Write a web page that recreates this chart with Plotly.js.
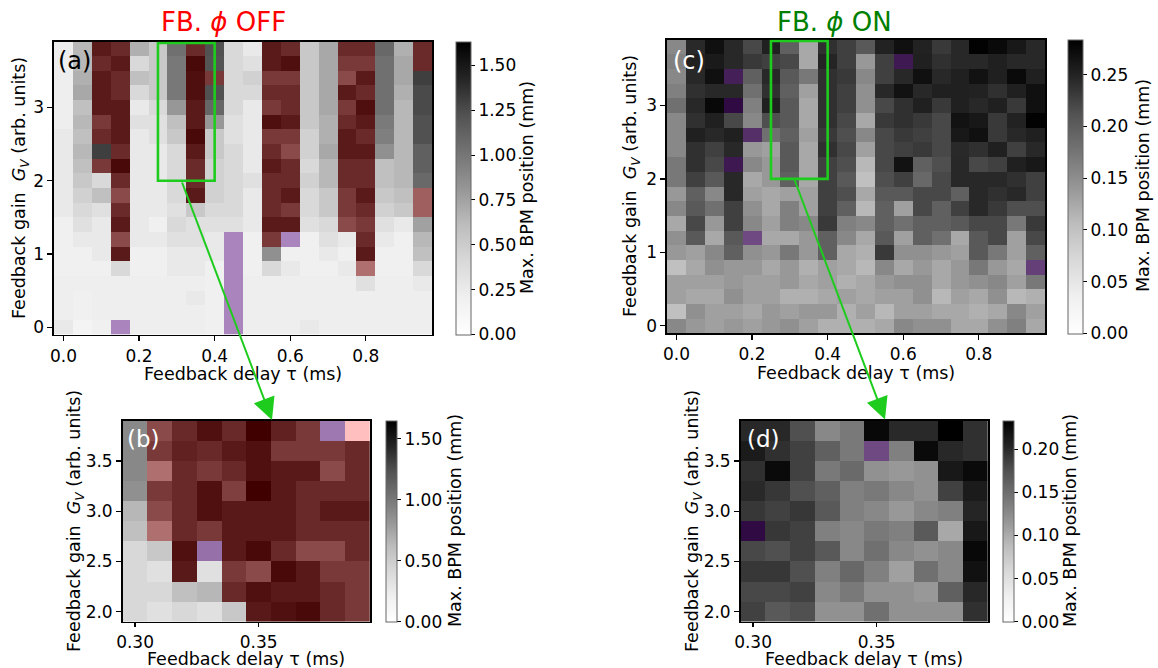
<!DOCTYPE html>
<html><head><meta charset="utf-8">
<script src="https://cdn.plot.ly/plotly-3.0.1.min.js"></script>
<style>html,body{margin:0;padding:0;background:#fff;} #chart{width:1158px;height:668px;}</style>
</head><body><div id="chart"></div>
<script>
// ---------- DATA ----------
const delayWide = [0.00,0.05,0.10,0.15,0.20,0.25,0.30,0.35,0.40,0.45,0.50,0.55,0.60,0.65,0.70,0.75,0.80,0.85,0.90,0.95];
const gainWide  = [0.0,0.2,0.4,0.6,0.8,1.0,1.2,1.4,1.6,1.8,2.0,2.2,2.4,2.6,2.8,3.0,3.2,3.4,3.6,3.8];
const delayZoom = [0.30,0.31,0.32,0.33,0.34,0.35,0.36,0.37,0.38,0.39];
const gainZoom  = [2.0,2.2,2.4,2.6,2.8,3.0,3.2,3.4,3.6,3.8];

// Panel (a): FB phi OFF, max BPM position (mm); rows listed from top (G=3.8) to bottom (G=0)
const offWide = [
[0.22,0.64,1.44,1.34,0.68,0.53,1.04,1.34,1.23,0.41,0.27,1.44,1.34,0.53,0.72,1.34,1.34,1.09,0.68,1.34],
[0.22,0.64,1.34,1.44,0.41,0.53,0.99,1.56,1.21,0.41,0.35,1.44,1.52,0.53,0.72,1.25,1.25,1.04,0.72,1.34],
[0.22,0.68,1.44,1.34,0.59,0.53,0.99,1.52,1.25,0.41,0.47,1.25,1.25,0.53,0.72,1.12,1.44,1.04,0.72,1.31],
[0.22,0.72,1.44,1.34,0.41,0.53,0.99,1.52,1.23,0.41,0.41,1.34,1.34,0.53,0.72,1.44,1.34,1.04,0.68,1.26],
[0.22,0.59,1.44,1.44,0.27,0.41,0.81,1.44,1.10,0.41,0.27,1.25,1.34,0.53,0.72,1.25,1.52,1.04,0.64,1.26],
[0.22,0.64,1.25,1.44,0.35,0.35,0.59,1.44,0.81,0.35,0.27,1.52,1.44,0.53,0.68,1.34,1.44,0.98,0.64,1.23],
[0.27,0.59,1.34,1.44,0.27,0.35,0.53,1.56,0.53,0.35,0.27,1.25,1.25,0.47,0.68,1.44,1.34,0.95,0.64,1.23],
[0.27,0.64,1.31,1.34,0.27,0.27,0.41,1.44,0.53,0.41,0.27,1.34,1.12,0.47,0.72,1.44,1.44,0.85,0.64,1.14],
[0.27,0.59,1.25,1.56,0.27,0.27,0.41,1.34,0.47,0.41,0.27,1.44,1.34,0.41,0.64,1.34,1.34,0.59,0.64,1.14],
[0.27,0.53,0.41,1.34,0.27,0.27,0.41,1.34,0.47,0.41,0.35,1.34,1.34,0.47,0.64,1.34,1.34,0.59,0.64,1.08],
[0.27,0.47,0.59,1.12,0.27,0.27,0.41,1.44,0.47,0.41,0.27,1.34,1.44,0.41,0.53,1.25,1.44,0.53,0.59,0.95],
[0.27,0.41,0.35,1.34,0.27,0.27,0.35,0.53,0.41,0.41,0.27,1.34,1.25,0.41,0.53,1.25,1.34,0.47,0.53,0.95],
[0.20,0.35,0.27,1.44,0.27,0.20,0.41,0.35,0.35,0.35,0.27,1.44,1.44,0.35,0.41,1.12,1.25,0.35,0.27,0.76],
[0.20,0.27,0.27,1.12,0.27,0.27,0.35,0.35,0.27,0.35,0.20,1.25,0.35,0.20,0.35,0.27,1.34,0.27,0.20,0.64],
[0.20,0.20,0.27,1.44,0.20,0.20,0.27,0.27,0.27,0.35,0.20,0.85,0.20,0.20,0.27,0.20,1.44,0.20,0.20,0.59],
[0.20,0.20,0.20,0.41,0.20,0.20,0.27,0.27,0.20,0.35,0.20,0.41,0.27,0.20,0.20,0.27,0.82,0.20,0.20,0.41],
[0.22,0.22,0.22,0.22,0.22,0.22,0.22,0.22,0.20,0.35,0.22,0.22,0.22,0.22,0.22,0.22,0.35,0.22,0.22,0.27],
[0.22,0.20,0.22,0.22,0.22,0.22,0.22,0.27,0.20,0.35,0.22,0.22,0.22,0.22,0.22,0.22,0.22,0.22,0.22,0.22],
[0.22,0.20,0.22,0.22,0.22,0.22,0.22,0.22,0.20,0.35,0.22,0.22,0.22,0.22,0.22,0.22,0.22,0.22,0.22,0.22],
[0.27,0.15,0.20,0.35,0.22,0.22,0.22,0.22,0.20,0.35,0.22,0.22,0.22,0.27,0.22,0.22,0.22,0.22,0.22,0.22]
];
// R = red-flagged cell, P = purple-flagged cell
const offWideFlags = [
"..RR...R...RR..RR..R",
"..RR...R...RR..RR..R",
"..RR...RR..RR..RR...",
"..RR...R...RR..RR...",
"..RR...R...RR..RR...",
"..RR...R...RR..RR...",
"..RR...R...RR..RR...",
"...R...R...RR..RR...",
"..RR...R...RR..RR...",
"...R...R...RR..RR...",
"...R...R...RR..RR..R",
"...R.......RR..RR..R",
"...R.......RR..RR...",
"...R.....P.RP...R...",
"...R.....P......R...",
".........P......R...",
".........P..........",
".........P..........",
".........P..........",
"...P.....P.........."
];

// Panel (c): FB phi ON
const onWide = [
[0.156,0.245,0.269,0.246,0.221,0.253,0.198,0.126,0.240,0.227,0.206,0.251,0.269,0.251,0.233,0.246,0.282,0.274,0.261,0.246],
[0.164,0.253,0.259,0.246,0.233,0.227,0.221,0.126,0.249,0.227,0.140,0.227,0.243,0.253,0.240,0.246,0.246,0.253,0.246,0.246],
[0.156,0.246,0.269,0.235,0.198,0.246,0.206,0.172,0.240,0.233,0.156,0.227,0.246,0.269,0.246,0.253,0.267,0.253,0.274,0.253],
[0.164,0.240,0.246,0.246,0.181,0.240,0.198,0.133,0.240,0.227,0.148,0.246,0.267,0.246,0.253,0.253,0.251,0.240,0.253,0.269],
[0.181,0.246,0.276,0.268,0.164,0.253,0.206,0.126,0.240,0.227,0.148,0.221,0.240,0.253,0.233,0.253,0.246,0.253,0.233,0.269],
[0.156,0.240,0.253,0.221,0.156,0.215,0.206,0.126,0.240,0.221,0.126,0.233,0.240,0.233,0.221,0.267,0.261,0.233,0.251,0.282],
[0.156,0.253,0.246,0.253,0.214,0.181,0.198,0.133,0.233,0.215,0.156,0.221,0.233,0.227,0.221,0.261,0.269,0.233,0.246,0.253],
[0.156,0.240,0.227,0.246,0.140,0.133,0.206,0.126,0.240,0.221,0.133,0.221,0.227,0.233,0.221,0.245,0.240,0.253,0.227,0.246],
[0.172,0.240,0.221,0.245,0.156,0.140,0.206,0.126,0.227,0.215,0.111,0.221,0.267,0.198,0.215,0.246,0.221,0.227,0.253,0.261],
[0.172,0.227,0.206,0.246,0.126,0.140,0.198,0.126,0.227,0.206,0.103,0.215,0.227,0.189,0.221,0.246,0.246,0.246,0.240,0.227],
[0.140,0.198,0.156,0.246,0.133,0.126,0.133,0.133,0.227,0.215,0.126,0.206,0.206,0.221,0.221,0.198,0.246,0.240,0.246,0.227],
[0.156,0.206,0.181,0.227,0.148,0.126,0.164,0.133,0.227,0.198,0.111,0.198,0.133,0.221,0.198,0.227,0.246,0.233,0.215,0.215],
[0.126,0.221,0.140,0.227,0.156,0.133,0.164,0.156,0.233,0.164,0.156,0.198,0.181,0.198,0.198,0.206,0.221,0.221,0.172,0.233],
[0.148,0.206,0.126,0.206,0.168,0.126,0.126,0.140,0.198,0.156,0.126,0.206,0.133,0.198,0.181,0.126,0.206,0.221,0.133,0.221],
[0.140,0.133,0.156,0.198,0.148,0.140,0.172,0.140,0.198,0.126,0.118,0.233,0.148,0.148,0.140,0.133,0.206,0.172,0.133,0.198],
[0.103,0.126,0.148,0.140,0.140,0.126,0.140,0.118,0.133,0.126,0.111,0.156,0.126,0.140,0.126,0.140,0.172,0.140,0.126,0.185],
[0.133,0.133,0.133,0.140,0.133,0.133,0.140,0.126,0.133,0.118,0.126,0.140,0.148,0.148,0.126,0.140,0.148,0.156,0.133,0.172],
[0.133,0.126,0.126,0.148,0.133,0.133,0.118,0.118,0.126,0.133,0.126,0.133,0.133,0.148,0.111,0.133,0.126,0.148,0.111,0.118],
[0.103,0.148,0.133,0.133,0.126,0.140,0.133,0.140,0.140,0.118,0.133,0.111,0.133,0.133,0.126,0.126,0.118,0.126,0.156,0.133],
[0.156,0.140,0.133,0.140,0.133,0.140,0.148,0.133,0.118,0.118,0.118,0.126,0.156,0.148,0.148,0.126,0.126,0.148,0.164,0.126]
];
const onWideFlags = [
"....................",
"............P.......",
"...P................",
"....................",
"...P................",
"....................",
"....P...............",
"....................",
"...P................",
"....................",
"....................",
"....................",
"....................",
"....P...............",
"....................",
"...................P",
"....................",
"....................",
"....................",
"...................."
];

// Panel (b): FB phi OFF, fine scan; rows from top (G=3.8) to bottom (G=2.0)
const offZoom = [
[0.90,1.13,1.36,1.53,1.36,1.65,1.41,1.26,0.51,0.00],
[0.91,1.26,1.41,1.36,1.46,1.53,1.26,1.26,1.26,1.36],
[0.91,0.83,1.36,1.26,1.36,1.53,1.46,1.46,1.13,1.36],
[0.86,1.26,1.36,1.53,1.22,1.65,1.46,1.36,1.36,1.36],
[0.65,1.13,1.36,1.53,1.46,1.46,1.46,1.36,1.46,1.46],
[0.60,0.83,1.36,1.26,1.46,1.46,1.46,1.36,1.36,1.36],
[0.42,0.54,1.53,0.61,1.46,1.58,1.36,1.13,1.13,1.36],
[0.42,0.35,1.46,0.35,1.26,1.13,1.58,1.46,1.26,1.26],
[0.42,0.42,0.60,0.65,1.36,1.53,1.46,1.46,1.36,1.26],
[0.42,0.35,0.42,0.35,0.54,1.46,1.53,1.58,1.36,1.26]
];
const offZoomFlags = [
".RRRRRRRPR",
".RRRRRRRRR",
".RRRRRRRRR",
".RRRRRRRRR",
".RRRRRRRRR",
".RRRRRRRRR",
"..RPRRRRRR",
"..R.RRRRRR",
"....RRRRRR",
".....RRRRR"
];

// Panel (d): FB phi ON, fine scan
const onZoom = [
[0.202,0.202,0.176,0.128,0.141,0.227,0.201,0.201,0.233,0.197],
[0.212,0.197,0.186,0.162,0.141,0.137,0.135,0.225,0.202,0.197],
[0.197,0.225,0.186,0.141,0.154,0.121,0.115,0.121,0.214,0.225],
[0.201,0.192,0.176,0.162,0.135,0.141,0.128,0.121,0.186,0.212],
[0.192,0.186,0.192,0.169,0.135,0.128,0.115,0.128,0.135,0.204],
[0.220,0.192,0.186,0.135,0.128,0.141,0.135,0.168,0.103,0.214],
[0.181,0.176,0.186,0.169,0.128,0.148,0.128,0.121,0.128,0.227],
[0.192,0.192,0.176,0.135,0.155,0.135,0.109,0.148,0.128,0.220],
[0.181,0.181,0.186,0.128,0.141,0.121,0.121,0.115,0.162,0.202],
[0.186,0.169,0.176,0.121,0.121,0.148,0.121,0.121,0.121,0.197]
];
const onZoomFlags = [
"..........",
".....P....",
"..........",
"..........",
"..........",
"P.........",
"..........",
"..........",
"..........",
".........."
];

const cbTicksA = [0,0.25,0.5,0.75,1.0,1.25,1.5];
const cbTicksB = [0,0.5,1.0,1.5];
const cbTicksC = [0,0.05,0.10,0.15,0.20,0.25];
const cbTicksD = [0,0.05,0.10,0.15,0.20];

// ---------- LAYOUT HELPERS ----------
const W = 1158, H = 668;
const px = v => v / W;
const py = v => 1 - v / H;
const FONT = 'DejaVu Sans, sans-serif';
const fs = 17;      // tick labels
const fl = 17.5;    // axis labels

const greys = [[0,'#ffffff'],[0.125,'#f0f0f0'],[0.25,'#d9d9d9'],[0.375,'#bdbdbd'],[0.5,'#969696'],[0.625,'#737373'],[0.75,'#525252'],[0.875,'#252525'],[1,'#000000']];
const RED = 'rgba(255,0,0,0.25)';
const PURPLE = 'rgba(93,0,135,0.41)';
const GREEN = '#1ecc1e';

const bottomUp = rows => rows.slice().reverse();
const flagZ = (rows, ch) => bottomUp(rows).map(r => r.split('').map(c => c === ch ? 1 : null));

function baseTrace(x, y, rows, xa, ya, zmax, cb) {
  return {
    type: 'heatmap', x: x, y: y, z: bottomUp(rows), xaxis: xa, yaxis: ya,
    colorscale: greys, zmin: 0, zmax: zmax, hoverinfo: 'skip',
    colorbar: Object.assign({
      thicknessmode: 'pixels', lenmode: 'fraction', xanchor: 'left', yanchor: 'top',
      xpad: 0, ypad: 0, outlinewidth: 1, outlinecolor: '#666',
      ticks: 'outside', ticklen: 4, tickwidth: 1, tickcolor: '#000',
      tickfont: {family: FONT, size: fs, color: '#000'}, tickformat: '.2f', tickmode: 'array'
    }, cb)
  };
}
function flagTrace(x, y, flags, ch, color, xa, ya) {
  return {
    type: 'heatmap', x: x, y: y, z: flagZ(flags, ch), xaxis: xa, yaxis: ya,
    colorscale: [[0, color], [1, color]], zmin: 0, zmax: 1, showscale: false, hoverinfo: 'skip'
  };
}

const traces = [
  baseTrace(delayWide, gainWide, offWide, 'x', 'y', 1.633,
    {x: px(456), y: py(41.5), len: (334.5-41.5)/H, thickness: 15, tickvals: cbTicksA}),
  flagTrace(delayWide, gainWide, offWideFlags, 'R', RED, 'x', 'y'),
  flagTrace(delayWide, gainWide, offWideFlags, 'P', PURPLE, 'x', 'y'),

  baseTrace(delayWide, gainWide, onWide, 'x2', 'y2', 0.284,
    {x: px(1068), y: py(39.5), len: (333-39.5)/H, thickness: 15, tickvals: cbTicksC}),
  flagTrace(delayWide, gainWide, onWideFlags, 'P', PURPLE, 'x2', 'y2'),

  baseTrace(delayZoom, gainZoom, offZoom, 'x3', 'y3', 1.65,
    {x: px(386), y: py(420.7), len: (621.7-420.7)/H, thickness: 11, tickvals: cbTicksB}),
  flagTrace(delayZoom, gainZoom, offZoomFlags, 'R', RED, 'x3', 'y3'),
  flagTrace(delayZoom, gainZoom, offZoomFlags, 'P', PURPLE, 'x3', 'y3'),

  baseTrace(delayZoom, gainZoom, onZoom, 'x4', 'y4', 0.233,
    {x: px(1003), y: py(420.7), len: (621.7-420.7)/H, thickness: 11, tickvals: cbTicksD}),
  flagTrace(delayZoom, gainZoom, onZoomFlags, 'P', PURPLE, 'x4', 'y4')
];

function ax(domain, range, tickvals, fmt, anchor, tl) {
  return {
    domain: domain, range: range, anchor: anchor, tickmode: 'array', tickvals: tickvals, tickformat: fmt,
    showline: true, mirror: true, linecolor: '#000', linewidth: 1.6,
    ticks: 'outside', ticklen: tl || 5, tickwidth: 1.2, tickcolor: '#000',
    showgrid: false, zeroline: false, fixedrange: true,
    tickfont: {family: FONT, size: fs, color: '#000'}
  };
}

const layout = {
  width: W, height: H, margin: {l: 0, r: 0, t: 0, b: 0},
  paper_bgcolor: '#fff', plot_bgcolor: '#fff', showlegend: false,
  font: {family: FONT, size: fs, color: '#000'},
  xaxis:  ax([px(54), px(432)], [-0.025, 0.975], [0, 0.2, 0.4, 0.6, 0.8], '.1f', 'y'),
  yaxis:  ax([py(334.5), py(41.5)], [-0.1, 3.9], [0, 1, 2, 3], 'd', 'x'),
  xaxis2: ax([px(667), px(1045)], [-0.025, 0.975], [0, 0.2, 0.4, 0.6, 0.8], '.1f', 'y2'),
  yaxis2: ax([py(333), py(39.5)], [-0.1, 3.9], [0, 1, 2, 3], 'd', 'x2'),
  xaxis3: ax([px(122.7), px(370)], [0.295, 0.395], [0.30, 0.35], '.2f', 'y3', 4),
  yaxis3: ax([py(621.7), py(420.7)], [1.9, 3.9], [2.0, 2.5, 3.0, 3.5], '.1f', 'x3'),
  xaxis4: ax([px(740.7), px(988)], [0.295, 0.395], [0.30, 0.35], '.2f', 'y4', 4),
  yaxis4: ax([py(621.7), py(420.7)], [1.9, 3.9], [2.0, 2.5, 3.0, 3.5], '.1f', 'x4'),
  shapes: [
    {type: 'rect', xref: 'x', yref: 'y', x0: 0.25, x1: 0.40, y0: 2.0, y1: 3.88, line: {color: GREEN, width: 2.6}},
    {type: 'rect', xref: 'x2', yref: 'y2', x0: 0.25, x1: 0.40, y0: 2.0, y1: 3.88, line: {color: GREEN, width: 2.6}}
  ],
  annotations: []
};

const A = layout.annotations;
function txt(x, y, text, opts) {
  A.push(Object.assign({xref: 'paper', yref: 'paper', x: px(x), y: py(y), text: text, showarrow: false,
    xanchor: 'center', yanchor: 'middle', font: {family: FONT, size: fl, color: '#000'}}, opts || {}));
}
const yLab = 'Feedback gain  <i>G</i><sub><i>V</i></sub> (arb. units)';
const xLab = 'Feedback delay τ (ms)';
const cLab = 'Max. BPM position (mm)';

// titles
txt(159, 22, 'FB. <i>ϕ</i> OFF', {xanchor: 'left', font: {family: FONT, size: 26, color: '#ff0000'}});
txt(775, 22, 'FB. <i>ϕ</i> ON', {xanchor: 'left', font: {family: FONT, size: 26, color: '#008000'}});
// panel letters
txt(56, 61, '(a)', {xanchor: 'left', font: {family: FONT, size: 24, color: '#000'}});
txt(671, 61, '(c)', {xanchor: 'left', font: {family: FONT, size: 24, color: '#fff'}});
txt(125, 439, '(b)', {xanchor: 'left', font: {family: FONT, size: 23, color: '#fff'}});
txt(745, 439, '(d)', {xanchor: 'left', font: {family: FONT, size: 23, color: '#fff'}});
// axis titles
txt(20, 188, yLab, {textangle: -90});
txt(243, 374, xLab);
txt(527, 188, cLab, {textangle: -90});
txt(632, 186, yLab, {textangle: -90});
txt(856, 373, xLab);
txt(1143, 186, cLab, {textangle: -90});
txt(75, 521, yLab, {textangle: -90});
txt(246, 659, xLab);
txt(455, 521, cLab, {textangle: -90});
txt(693, 521, yLab, {textangle: -90});
txt(864, 659, xLab);
txt(1070, 521, cLab, {textangle: -90});

// arrows
A.push({xref: 'paper', yref: 'paper', x: px(272), y: py(420), axref: 'pixel', ayref: 'pixel',
  ax: 181.5 - 272, ay: 181 - 420, text: '', showarrow: true, arrowhead: 2, arrowsize: 2.2,
  arrowwidth: 2, arrowcolor: GREEN, standoff: 0});
A.push({xref: 'paper', yref: 'paper', x: px(885), y: py(419.5), axref: 'pixel', ayref: 'pixel',
  ax: 794 - 885, ay: 178.5 - 419.5, text: '', showarrow: true, arrowhead: 2, arrowsize: 2.2,
  arrowwidth: 2, arrowcolor: GREEN, standoff: 0});

Plotly.newPlot('chart', traces, layout, {displayModeBar: false, staticPlot: true});
</script></body></html>
